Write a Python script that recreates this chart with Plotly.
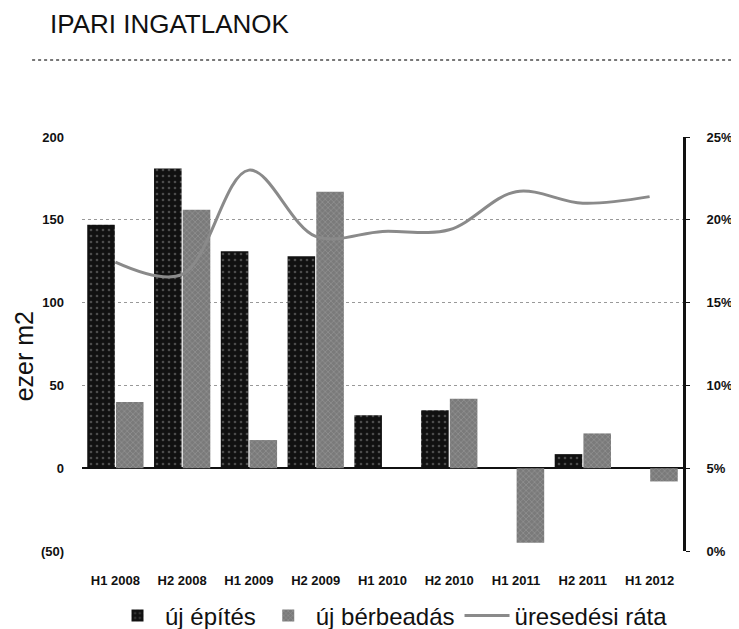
import plotly.graph_objects as go

categories = ["H1 2008", "H2 2008", "H1 2009", "H2 2009", "H1 2010",
              "H2 2010", "H1 2011", "H2 2011", "H1 2012"]
uj_epites = [147, 181, 131, 128, 32, 35, None, 8.5, None]
uj_berbeadas = [40, 156, 17, 167, None, 42, -45, 21, -8]
uresedesi_rata = [0.1745, 0.167, 0.230, 0.190, 0.193, 0.194, 0.217, 0.210, 0.214]

left_ticks = [-50, 0, 50, 100, 150, 200]
left_ticktext = ["(50)", "0", "50", "100", "150", "200"]
right_ticks = [0, 0.05, 0.10, 0.15, 0.20, 0.25]

FONT = "Liberation Sans, Arial"

fig = go.Figure()
fig.add_trace(go.Bar(
    x=categories, y=uj_epites, name="új építés",
    marker=dict(color="#111111", line=dict(width=0),
                pattern=dict(shape=".", fgcolor="#888888", size=6, solidity=0.15)),
))
fig.add_trace(go.Bar(
    x=categories, y=uj_berbeadas, name="új bérbeadás",
    marker=dict(color="#7a7a7a", line=dict(width=0),
                pattern=dict(shape="x", fgcolor="#b0b0b0", size=4, solidity=0.3)),
))
fig.add_trace(go.Scatter(
    x=categories, y=uresedesi_rata, name="üresedési ráta", yaxis="y2",
    mode="lines", line=dict(color="#8a8a8a", width=3, shape="spline", smoothing=1.0),
))

fig.update_layout(
    width=731, height=621,
    paper_bgcolor="white", plot_bgcolor="white",
    margin=dict(l=74, r=56, t=129, b=78, autoexpand=False),
    barmode="group", bargap=0.14, bargroupgap=0.04,
    font=dict(family=FONT, color="#111111"),
    showlegend=True,
    legend=dict(orientation="h", x=0.515, xanchor="center",
                yref="container", y=0.021, yanchor="middle",
                font=dict(size=24, family=FONT), tracegroupgap=0,
                itemwidth=45, bgcolor="rgba(0,0,0,0)"),
    xaxis=dict(
        showgrid=False, showline=False, ticks="", zeroline=False, automargin=False,
        ticklabelstandoff=20,
        tickfont=dict(size=13, family=FONT, color="#111111", weight="bold"),
    ),
    yaxis=dict(
        range=[-50, 200], tickvals=left_ticks, ticktext=left_ticktext,
        showgrid=True, gridcolor="#999999", griddash="dot", gridwidth=1,
        zeroline=True, zerolinecolor="#111111", zerolinewidth=2,
        showline=False, ticks="", automargin=False, ticklabelstandoff=17,
        tickfont=dict(size=13, family=FONT, color="#111111", weight="bold"),
    ),
    yaxis2=dict(
        overlaying="y", side="right", range=[0, 0.25], tickvals=right_ticks,
        tickformat=".0%", showgrid=False, zeroline=False, automargin=False,
        showline=True, linecolor="#111111", linewidth=3,
        ticks="outside", ticklen=4, tickcolor="#111111", ticklabelstandoff=14,
        tickfont=dict(size=13, family=FONT, color="#111111", weight="bold"),
    ),
    annotations=[
        dict(text="IPARI INGATLANOK", xref="paper", yref="paper",
             x=-0.0566, y=1.272, xanchor="left", yanchor="middle", showarrow=False,
             font=dict(size=26, family=FONT, color="#111111")),
        dict(text="ezer m2", xref="paper", yref="paper", textangle=-90,
             x=-0.095, y=0.47, xanchor="center", yanchor="middle", showarrow=False,
             font=dict(size=25, family=FONT, color="#111111")),
    ],
    shapes=[dict(
        type="line", xref="paper", yref="paper", x0=-0.083, x1=1.093,
        y0=1.186, y1=1.186, line=dict(color="#777777", width=2, dash="dot"),
    )],
)

fig.write_html("out.html")
